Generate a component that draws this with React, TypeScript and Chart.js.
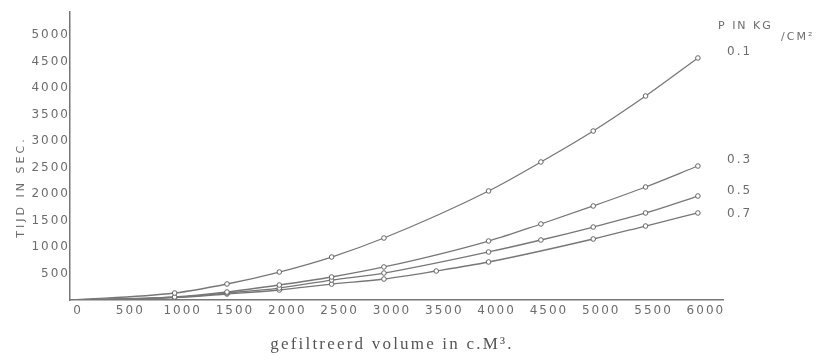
import React, { useEffect, useRef } from "react";
import { Chart, registerables } from "chart.js";

Chart.register(...registerables);

// Volume (c.M³) at which each time was read, per pressure series
const xP01 = [0, 1000, 1500, 2000, 2500, 3000, 4000, 4500, 5000, 5500, 6000];
const yP01 = [0, 132, 302, 528, 811, 1170, 2057, 2604, 3189, 3849, 4566];

const xP03 = [0, 1000, 1500, 2000, 2500, 3000, 4000, 4500, 5000, 5500, 6000];
const yP03 = [0, 57, 151, 283, 434, 623, 1113, 1434, 1774, 2132, 2528];

const xP05 = [0, 1000, 1500, 2000, 2500, 3000, 4000, 4500, 5000, 5500, 6000];
const yP05 = [0, 52, 132, 226, 377, 509, 906, 1132, 1377, 1642, 1962];

const xP07 = [0, 1000, 1500, 2000, 2500, 3000, 3500, 4000, 5000, 5500, 6000];
const yP07 = [0, 45, 113, 189, 300, 396, 547, 717, 1151, 1396, 1642];

// Tick values
const xTicks = [0, 500, 1000, 1500, 2000, 2500, 3000, 3500, 4000, 4500, 5000, 5500, 6000];
const yTicks = [500, 1000, 1500, 2000, 2500, 3000, 3500, 4000, 4500, 5000];

const seriesLabels = ["0.1", "0.3", "0.5", "0.7"];
const legendTitle = "P IN KG";
const legendUnit = "/CM²";
const yTitle = "TIJD IN SEC.";
const xTitle = "gefiltreerd volume in c.M³.";

const LINE = "#777777";
const TEXT = "#6c6c6c";

function pts(xs: number[], ys: number[]) {
  return xs.map((x, i) => ({ x, y: ys[i] }));
}

export default function App() {
  const ref = useRef<HTMLCanvasElement | null>(null);

  useEffect(() => {
    if (!ref.current) return;
    const allX = [xP01, xP03, xP05, xP07];
    const allY = [yP01, yP03, yP05, yP07];

    const textPlugin = {
      id: "handTexts",
      beforeDraw(chart: any) {
        const ctx = chart.ctx;
        ctx.save();
        ctx.fillStyle = "#ffffff";
        ctx.fillRect(0, 0, chart.width, chart.height);
        ctx.restore();
        (ctx as any).letterSpacing = "2px";
      },
      beforeDatasetsDraw(chart: any) {
        (chart.ctx as any).letterSpacing = "0px";
      },
      afterDraw(chart: any) {
        const ctx = chart.ctx;
        const ys = chart.scales.y;
        // y title
        ctx.save();
        ctx.translate(21, 187);
        ctx.rotate(-Math.PI / 2);
        ctx.font = '11px "DejaVu Sans"';
        (ctx as any).letterSpacing = "3px";
        ctx.fillStyle = TEXT;
        ctx.textAlign = "center";
        ctx.textBaseline = "middle";
        ctx.fillText(yTitle, 0, 0);
        ctx.restore();

        // x title
        ctx.save();
        ctx.font = '17px "Liberation Serif"';
        (ctx as any).letterSpacing = "2.2px";
        ctx.fillStyle = "#555";
        ctx.textAlign = "center";
        ctx.textBaseline = "middle";
        ctx.fillText(xTitle, 392, 345);
        ctx.restore();

        // right-side labels
        ctx.save();
        ctx.font = '11px "DejaVu Sans"';
        (ctx as any).letterSpacing = "2px";
        ctx.fillStyle = TEXT;
        ctx.textBaseline = "middle";
        ctx.textAlign = "left";
        ctx.fillText(legendTitle, 718, 26);
        ctx.fillText(legendUnit, 781, 37);
        ctx.font = '12px "DejaVu Sans"';
        const lastY = allY.map((a) => a[a.length - 1]);
        const offs = [-6, -6, -5, 1];
        seriesLabels.forEach((lab, i) => {
          const py = ys.getPixelForValue(lastY[i]) + offs[i];
          ctx.fillText(lab, 727, py);
        });
        ctx.restore();
      },
    };

    const chart = new Chart(ref.current, {
      type: "line",
      data: {
        datasets: seriesLabels.map((lab, i) => ({
          label: lab,
          data: pts(allX[i], allY[i]),
          borderColor: LINE,
          borderWidth: 1.3,
          pointRadius: allX[i].map((x) => (x === 0 ? 0 : 2.3)),
          pointBackgroundColor: "#ffffff",
          pointBorderColor: "#666666",
          pointBorderWidth: 1,
          cubicInterpolationMode: "monotone" as const,
          fill: false,
        })),
      },
      options: {
        responsive: false,
        animation: false,
        layout: { padding: { left: 0, right: 115, top: 12, bottom: 0 } },
        plugins: {
          legend: { display: false },
          tooltip: { enabled: false },
        },
        scales: {
          x: {
            type: "linear",
            min: 0,
            max: 6240,
            grid: { display: false, drawTicks: false },
            border: { display: true, color: LINE, width: 1.5 },
            afterBuildTicks: (s: any) => {
              s.ticks = xTicks.map((v) => ({ value: v }));
            },
            ticks: {
              autoSkip: false,
              maxRotation: 0,
              padding: 4,
              labelOffset: 8,
              color: TEXT,
              font: { family: "DejaVu Sans", size: 12 },
              callback: (v: any) => String(v),
            },
            afterFit: (s: any) => {
              s.height = 64;
            },
          },
          y: {
            type: "linear",
            min: 0,
            max: 5434,
            grid: { display: false, drawTicks: false },
            border: { display: true, color: LINE, width: 1.5 },
            afterBuildTicks: (s: any) => {
              s.ticks = yTicks.map((v) => ({ value: v }));
            },
            ticks: {
              autoSkip: false,
              padding: 0,
              color: TEXT,
              font: { family: "DejaVu Sans", size: 12 },
              callback: (v: any) => String(v),
            },
            afterFit: (s: any) => {
              s.width = 70;
            },
          },
        },
      },
      plugins: [textPlugin],
    } as any);

    return () => chart.destroy();
  }, []);

  return (
    <div style={{ position: "absolute", left: 0, top: 0, width: 838, height: 364, background: "#fff" }}>
      <canvas ref={ref} width={838} height={364} style={{ display: "block" }} />
    </div>
  );
}
